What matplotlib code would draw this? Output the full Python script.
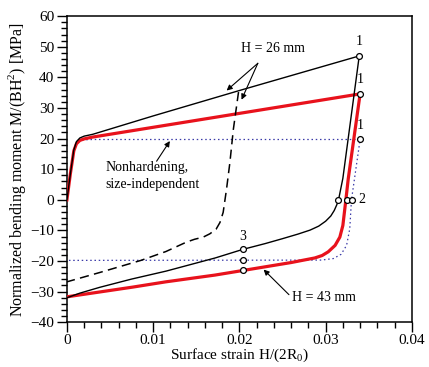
import matplotlib
matplotlib.use("Agg")
import matplotlib.pyplot as plt
from matplotlib.ticker import MultipleLocator, FixedLocator

plt.rcParams['font.family'] = ['Liberation Serif', 'DejaVu Serif']
plt.rcParams['mathtext.fontset'] = 'custom'
plt.rcParams['mathtext.rm'] = 'Liberation Serif'

# ---- data ----
# H = 26 mm, solid black (loading then unloading)
black_x = [0, 0.0004, 0.0008, 0.0011, 0.0015, 0.002, 0.003, 0.01, 0.02, 0.0339,
           0.0320, 0.03150, 0.0313, 0.0310, 0.0306, 0.0300, 0.0292, 0.0282, 0.0268,
           0.0250, 0.0230, 0.0204, 0.0172, 0.0115, 0.0075, 0.0038, 0.0015, 0]
black_y = [0, 8.5, 16.3, 19.0, 20.2, 20.8, 21.4, 27.4, 35.7, 47.0,
           7.0, 0.0, -1.6, -3.5, -5.3, -7.0, -8.6, -9.9, -11.2,
           -12.7, -14.3, -16.2, -19.0, -23.3, -25.9, -28.6, -30.5, -32.0]

# H = 26 mm, dashed (reverse loading from intermediate strain)
dash_x = [0.0199, 0.0193, 0.0189, 0.01851, 0.01812, 0.01775, 0.01730, 0.01658,
          0.0158, 0.01480, 0.01388, 0.01148, 0.00858, 0.00375, 0]
dash_y = [35.2, 23.0, 12.2, 3.5, -4.1, -7.4, -9.6, -11.1,
          -12.2, -12.9, -13.8, -16.9, -19.8, -23.8, -26.8]

# H = 43 mm, red
red_x = [0, 0.0004, 0.0008, 0.0011, 0.0015, 0.002, 0.003, 0.0340,
         0.03262, 0.03235, 0.0320, 0.03165, 0.0311, 0.0303, 0.0296, 0.02875,
         0.0260, 0.0204, 0.01716, 0.01148, 0.00769, 0]
red_y = [0, 8.5, 16.0, 18.3, 19.4, 19.9, 20.5, 34.6,
         6.75, 0.0, -8.4, -12.2, -14.9, -17.0, -18.2, -19.0,
         -20.5, -23.1, -24.6, -26.8, -28.5, -31.7]

# Nonhardening, size-independent (dotted blue)
dot_x = [0, 0.0004, 0.0008, 0.0011, 0.0015, 0.002, 0.003, 0.0340,
         0.0330, 0.0328, 0.03243, 0.0318, 0.0309, 0.0295, 0]
dot_y = [0, 8.5, 15.5, 18.3, 19.3, 19.6, 19.7, 19.7,
         0.0, -9.5, -14.9, -17.8, -19.2, -19.7, -19.8]

# marked points (open circles)
pt1_x = [0.0339, 0.0340, 0.0340]
pt1_y = [47.0, 34.6, 19.7]
pt2_x = [0.03146, 0.03243, 0.03304]
pt2_y = [0.0, 0.0, 0.0]
pt3_x = [0.0204, 0.0204, 0.0204]
pt3_y = [-16.2, -19.8, -23.1]

x_ticks = [0, 0.01, 0.02, 0.03, 0.04]
x_ticklabels = ['0', '0.01', '0.02', '0.03', '0.04']
y_ticks = [-40, -30, -20, -10, 0, 10, 20, 30, 40, 50, 60]

# ---- figure ----
fig = plt.figure(figsize=(4.29, 3.67), dpi=100)
ax = fig.add_axes([0.156, 0.122, 0.804, 0.834])

ax.plot(dot_x, dot_y, color='#3a3aa8', lw=0.9, ls=(0, (1.2, 2.2)), zorder=2)
ax.plot(red_x, red_y, color='#e8121c', lw=2.3, zorder=3, solid_joinstyle='round')
ax.plot(black_x, black_y, color='black', lw=1.0, zorder=4)
ax.plot(dash_x, dash_y, color='black', lw=1.1, ls=(0, (6, 3.5)), zorder=4)

mk = dict(ls='none', marker='o', ms=4.2, mfc='white', mec='black', mew=0.9, zorder=6)
ax.plot(pt1_x, pt1_y, **mk)
ax.plot(pt2_x, pt2_y, **mk)
ax.plot(pt3_x, pt3_y, **mk)

fs_ann = 10
for xx, yy in zip(pt1_x, pt1_y):
    ax.text(xx, yy + 2.6, '1', ha='center', va='bottom', fontsize=fs_ann)
ax.text(0.03385, 0.0, '2', ha='left', va='center', fontsize=fs_ann)
ax.text(0.0204, -14.2, '3', ha='center', va='bottom', fontsize=fs_ann)

ax.text(0.0239, 49.3, 'H = 26 mm', ha='center', va='center', fontsize=fs_ann)
ax.annotate('', xy=(0.01852, 35.7), xytext=(0.02214, 44.6),
            arrowprops=dict(arrowstyle='-|>', color='black', lw=0.8,
                            mutation_scale=8, shrinkA=0, shrinkB=0))
ax.annotate('', xy=(0.02025, 32.7), xytext=(0.02214, 44.6),
            arrowprops=dict(arrowstyle='-|>', color='black', lw=0.8,
                            mutation_scale=8, shrinkA=0, shrinkB=0))

ax.text(0.00935, 10.4, 'Nonhardening,', ha='center', va='center', fontsize=fs_ann)
ax.text(0.00990, 5.0, 'size-independent', ha='center', va='center', fontsize=fs_ann)
ax.annotate('', xy=(0.01194, 19.2), xytext=(0.0104, 12.6),
            arrowprops=dict(arrowstyle='-|>', color='black', lw=0.8,
                            mutation_scale=8, shrinkA=0, shrinkB=0))

ax.text(0.0298, -31.9, 'H = 43 mm', ha='center', va='center', fontsize=fs_ann)
ax.annotate('', xy=(0.02281, -22.8), xytext=(0.02575, -31.0),
            arrowprops=dict(arrowstyle='-|>', color='black', lw=0.8,
                            mutation_scale=8, shrinkA=0, shrinkB=0))

ax.set_xlim(0, 0.04)
ax.set_ylim(-40, 60)
ax.xaxis.set_major_locator(FixedLocator(x_ticks))
ax.set_xticklabels(x_ticklabels)
ax.xaxis.set_minor_locator(MultipleLocator(0.002))
ax.yaxis.set_major_locator(FixedLocator(y_ticks))
ax.yaxis.set_minor_locator(MultipleLocator(2))
ax.tick_params(which='both', direction='out', top=False, right=False,
               labelsize=11, width=1.0, color='black')
ax.tick_params(which='major', length=7, pad=2)
ax.tick_params(axis='x', which='major', pad=1.5)
ax.tick_params(which='minor', length=4)
for s in ax.spines.values():
    s.set_linewidth(1.1)

ax.set_xlabel('Surface strain H/(2R$_0$)', fontsize=11, labelpad=0)
ax.set_ylabel('Normalized bending moment M/(BH$^2$) [MPa]', fontsize=11.5, labelpad=2)

fig.savefig('out.png', dpi=100)
